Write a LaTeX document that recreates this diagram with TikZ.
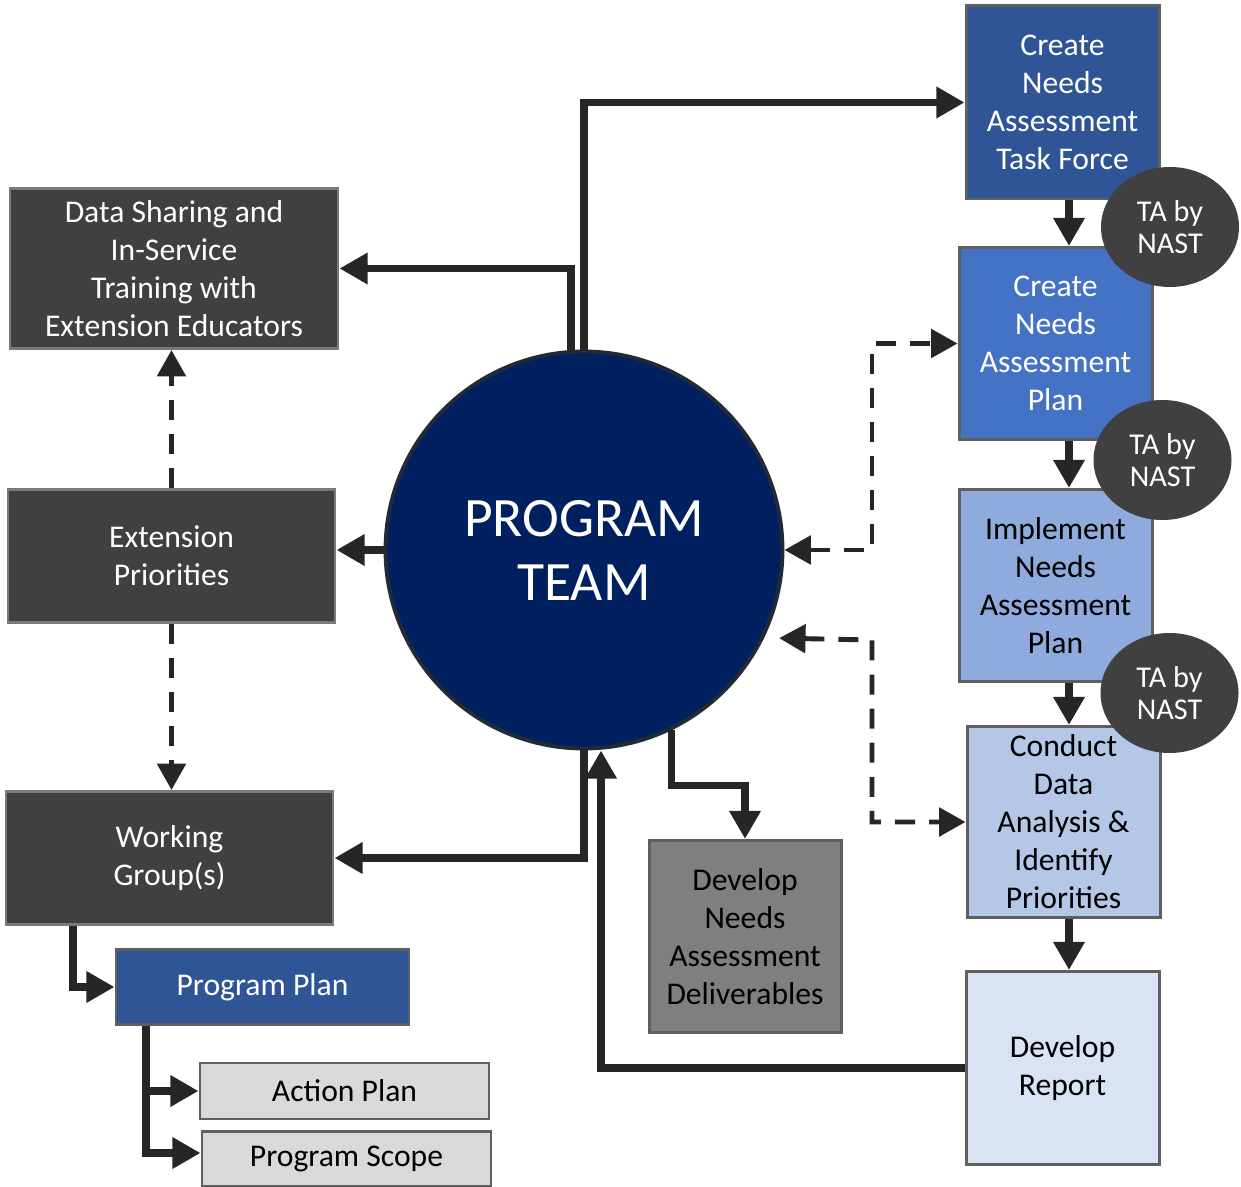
\documentclass[tikz,border=0pt]{standalone}
\usepackage{fontspec}
\setmainfont{Carlito}
\usetikzlibrary{arrows.meta,shapes.geometric,calc}
\definecolor{boxdark}{HTML}{404040}
\definecolor{boxgrey}{HTML}{7F7F7F}
\definecolor{boxlight}{HTML}{D9D9D9}
\definecolor{navy}{HTML}{002060}
\definecolor{rimnavy}{HTML}{222A35}
\definecolor{blueA}{HTML}{2F5597}
\definecolor{blueB}{HTML}{4472C4}
\definecolor{blueC}{HTML}{8FAADC}
\definecolor{blueD}{HTML}{B4C7E7}
\definecolor{blueE}{HTML}{DAE3F3}
\definecolor{linedark}{HTML}{262626}
\definecolor{rim}{HTML}{5F5F5F}
\definecolor{rimlight}{HTML}{7A7A7A}
\tikzstyle{box}=[rectangle,draw=rim,line width=0.85pt,align=center,inner sep=0pt,font=\fontsize{9}{10.8}\selectfont]
\tikzstyle{darkbox}=[box,fill=boxdark,draw=rimlight,text=white]
\tikzstyle{bluebox}=[box,text=white]
\tikzstyle{lightbox}=[box,text=black]
\tikzstyle{ta}=[ellipse,fill=boxdark,text=white,minimum width=1.38cm,minimum height=1.20cm,inner sep=0pt,align=center,font=\fontsize{8.6}{9.2}\selectfont]
\tikzstyle{edge}=[draw=linedark,line width=2pt,-{Triangle[length=8pt,width=8.5pt]}]
\tikzstyle{dashline}=[draw=linedark,line width=1.4pt,dash pattern=on 5.7pt off 4pt,-{Triangle[length=7.5pt,width=8pt]}]
\tikzstyle{dashboth}=[dashline,{Triangle[length=7.5pt,width=8pt]}-{Triangle[length=7.5pt,width=8pt]}]

\begin{document}
\begin{tikzpicture}
    \useasboundingbox (0,0) rectangle (12.41,-11.87);

    % dark boxes on the left
    \foreach \pos/\name/\w/\h/\label in {{(1.74,-2.685)/share/3.28/1.60/{Data Sharing and\\In-Service\\Training with\\Extension Educators}},
        {(1.715,-5.56)/prio/3.27/1.33/{Extension\\Priorities}},
        {(1.695,-8.58)/work/3.27/1.33/{Working\\Group(s)}}}
        \node[darkbox,minimum width=\w cm,minimum height=\h cm] (\name) at \pos {\label};

    % blue boxes, white text
    \foreach \pos/\name/\w/\h/\col/\label in {{(2.625,-9.87)/pplan/2.93/0.75/blueA/{Program Plan}},
        {(10.625,-1.025)/task/1.93/1.93/blueA/{Create\\Needs\\Assessment\\Task Force}},
        {(10.555,-3.435)/naplan/1.93/1.92/blueB/{Create\\Needs\\Assessment\\Plan}}}
        \node[bluebox,fill=\col,minimum width=\w cm,minimum height=\h cm] (\name) at \pos {\label};

    % light boxes, black text
    \foreach \pos/\name/\w/\h/\col/\label in {{(10.555,-5.855)/impl/1.93/1.92/blueC/{Implement\\Needs\\Assessment\\Plan}},
        {(10.635,-8.22)/conduct/1.93/1.91/blueD/{Conduct\\Data\\Analysis \&\\Identify\\Priorities}},
        {(10.625,-10.68)/report/1.93/1.93/blueE/{Develop\\Report}},
        {(7.45,-9.365)/deliv/1.92/1.92/boxgrey/{Develop\\Needs\\Assessment\\Deliverables}},
        {(3.445,-10.91)/action/2.89/0.56/boxlight/{Action Plan}},
        {(3.465,-11.59)/scope/2.89/0.55/boxlight/{Program Scope}}}
        \node[lightbox,fill=\col,minimum width=\w cm,minimum height=\h cm] (\name) at \pos {\label};

    \node[circle,fill=navy,draw=rimnavy,line width=1.1pt,minimum size=3.97cm,inner sep=0pt,text=white,align=center,font=\fontsize{15.8}{18.2}\selectfont] (team) at (5.84,-5.5) {PROGRAM\\TEAM};

    \coordinate (colx) at (10.69,0);
    \coordinate (leftx) at (0.73,0);
    \coordinate (planx) at (1.46,0);
    \coordinate (dashA) at (8.72,-5.5);
    \coordinate (dashB) at (8.72,-6.40);

    % solid connectors
    \draw[edge] (team.north) |- (task.west);
    \draw[edge] ([xshift=-0.13cm]team.north) |- (share.east);
    \draw[edge] (team.west) -- (team.west -| prio.east);
    \draw[edge] (team.south) |- (work.east);
    \draw[edge] (report.west) -| ([xshift=0.17cm]team.south);
    \draw[edge] (team.-64.5) -- ++(0,-0.55) -| (deliv.north);
    \foreach \a/\b in {task/naplan,naplan/impl,impl/conduct,conduct/report}
        \draw[edge] (\a.south -| colx) -- (\b.north -| colx);
    \draw[edge] (work.south -| leftx) |- (pplan.west);
    \draw[edge] (pplan.south -| planx) |- (action.west);
    \draw[edge] (pplan.south -| planx) |- ([yshift=0.06cm]scope.west);

    % dashed connectors
    \draw[dashline] (prio.north) -- (prio.north |- share.south);
    \draw[dashline] (prio.south) -- (prio.south |- work.north);
    \draw[dashboth] (team.east) -- (dashA) |- (naplan.west);
    \draw[dashboth,shorten <=0.15cm] (team.-26.7) -- (dashB) |- (conduct.west);

    % technical assistance
    \foreach \pos/\name in {{(11.70,-2.27)/ta1},{(11.625,-4.60)/ta2},{(11.695,-6.93)/ta3}}
        \node[ta] (\name) at \pos {TA by\\NAST};

\end{tikzpicture}
\end{document}
